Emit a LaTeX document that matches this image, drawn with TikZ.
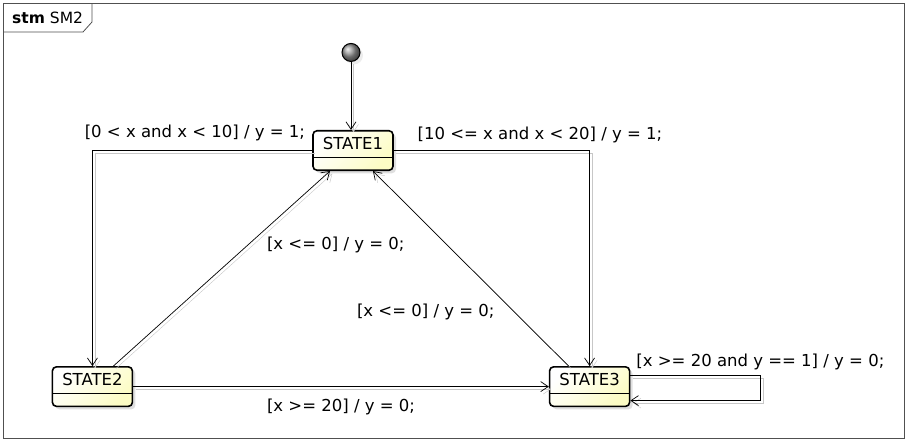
\documentclass[tikz,border=0pt]{standalone}
\usepackage{fontspec}
\setmainfont{DejaVu Sans}
\usepackage{tikz}
\usetikzlibrary{positioning, arrows.meta, shadows}
\definecolor{statefill}{RGB}{252,252,196}
\definecolor{framecol}{RGB}{80,80,80}
\tikzset{
    statenode/.style  = {draw, line width=1.6pt, rounded corners=4pt, font=\fontsize{16.5}{19}\selectfont,
                         minimum width=80pt, text height=12pt, text depth=14.5pt, inner ysep=6.5pt,
                         top color=white, bottom color=statefill, shading angle=45,
                         drop shadow={opacity=0.25, shadow xshift=3pt, shadow yshift=-3pt},
                         path picture={\draw[line width=0.6pt]
                             ([yshift=13pt]path picture bounding box.south west) --
                             ([yshift=13pt]path picture bounding box.south east);}},
    initnode/.style   = {circle, draw, line width=1pt, minimum size=18pt, inner sep=0pt,
                         ball color=gray!80, drop shadow={opacity=0.15, shadow xshift=3pt, shadow yshift=-3pt}},
    edge/.style       = {-{Straight Barb[length=7.5pt, width=10pt]}, line width=0.7pt,
                         preaction={draw=black!22, transform canvas={xshift=2.5pt, yshift=-2.5pt}}},
    edgelbl/.style    = {font=\fontsize{16.5}{19}\selectfont, inner sep=1pt},
}

\begin{document}
\begin{tikzpicture}[x=1pt, y=-1pt]

\useasboundingbox (0,0) rectangle (906,440);

% frame
\draw[framecol, line width=0.8pt] (3,3) rectangle (904,438);
\draw[framecol, line width=0.8pt] (3,32) -- (83,32) -- (92,22) -- (92,3);
\node[anchor=west, font=\fontsize{15.5}{18}\selectfont, inner sep=0pt] (title) at (12,18)
    {\textbf{stm} SM2};

\node[statenode] (s1) at (353,150.5) {STATE1};
\node[statenode, below left=195pt and 179pt of s1] (s2) {STATE2};
\node[statenode, below right=195pt and 155pt of s1] (s3) {STATE3};

\node[initnode, above=68pt of s1, xshift=-2pt] (init) {};

\draw[edge] (init.south) -- (init.south |- s1.north);

\draw[edge] (s1.west) -| (s2.north)
    node[edgelbl, pos=0.02, above left=8pt and -3pt] {[0 < x and x < 10] / y = 1;};
\draw[edge] (s1.east) -| (s3.north)
    node[edgelbl, pos=0.06, above right=6pt and -1pt] {[10 <= x and x < 20] / y = 1;};
\draw[edge] ([xshift=21pt]s2.north) -- ([xshift=-23pt]s1.south)
    node[edgelbl, pos=0.62, right=18pt] {[x <= 0] / y = 0;};
\draw[edge] ([xshift=-21pt]s3.north) -- ([xshift=20pt]s1.south)
    node[edgelbl, pos=0.28, left=18pt] {[x <= 0] / y = 0;};
\draw[edge] (s2.east) -- (s3.west)
    node[edgelbl, midway, below=11pt] {[x >= 20] / y = 0;};
\draw[edge] ([yshift=11pt]s3.east) -- ++(130,0)
    node[edgelbl, above=4pt] {[x >= 20 and y == 1] / y = 0;}
    |- ([yshift=-14pt]s3.east);

\end{tikzpicture}
\end{document}
